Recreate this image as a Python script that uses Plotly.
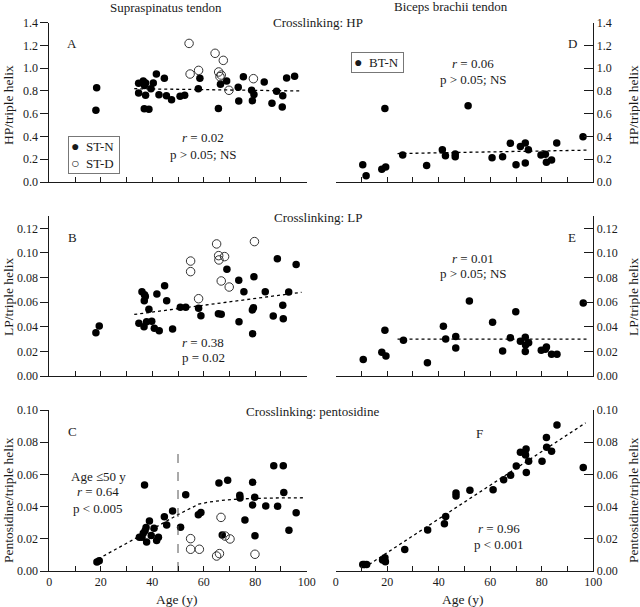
import plotly.graph_objects as go

# ---------------- data ----------------
A_STN_age = [18.4, 18.1, 34.7, 34.7, 36.5, 37.4, 37.0, 37.4, 36.9, 38.7, 39.5, 40.4, 41.6, 42.6, 44.7, 45.5, 47.5, 50.8, 52.6, 57.9, 58.5, 65.7, 66.5, 68.9, 73.4, 73.6, 75.4, 78.6, 78.9, 79.5, 83.5, 86.5, 88.3, 90.7, 90.5, 92.2, 95.3]
A_STN_val = [0.829, 0.630, 0.867, 0.782, 0.888, 0.870, 0.849, 0.762, 0.644, 0.639, 0.820, 0.870, 0.949, 0.767, 0.911, 0.759, 0.723, 0.753, 0.762, 0.820, 0.911, 0.647, 0.858, 0.888, 0.832, 0.712, 0.926, 0.806, 0.715, 0.770, 0.879, 0.691, 0.797, 0.759, 0.659, 0.914, 0.929]
A_STD_age = [54.3, 54.7, 58.0, 64.4, 65.8, 66.3, 66.8, 67.6, 69.8, 79.3]
A_STD_val = [1.218, 0.949, 0.981, 1.131, 0.967, 0.926, 0.940, 1.069, 0.806, 0.908]

B_STN_age = [18.1, 19.4, 34.8, 36.0, 36.8, 37.0, 37.3, 36.9, 37.8, 38.7, 39.8, 40.8, 41.8, 42.7, 44.8, 45.6, 47.9, 50.9, 53.0, 58.0, 58.9, 65.7, 66.8, 69.0, 73.6, 73.7, 75.6, 78.9, 79.3, 79.5, 79.0, 83.9, 87.0, 88.6, 90.7, 90.9, 93.0, 95.9]
B_STN_val = [0.0352, 0.0406, 0.0428, 0.0685, 0.0401, 0.0660, 0.0645, 0.0612, 0.0441, 0.0542, 0.0444, 0.0387, 0.0666, 0.0368, 0.0734, 0.0612, 0.0382, 0.0558, 0.0558, 0.0550, 0.0490, 0.0506, 0.0501, 0.0867, 0.0777, 0.0441, 0.0685, 0.0536, 0.0555, 0.0807, 0.0344, 0.0685, 0.0488, 0.0953, 0.0574, 0.0466, 0.0683, 0.0905]
B_STD_age = [54.9, 54.9, 58.0, 65.0, 65.8, 65.9, 66.8, 68.1, 69.9, 79.7]
B_STD_val = [0.0934, 0.0848, 0.0628, 0.1073, 0.0978, 0.0943, 0.0772, 0.0970, 0.0723, 0.1092]

C_STN_age = [18.5, 19.4, 35.0, 36.0, 36.5, 37.2, 37.6, 37.8, 38.9, 39.6, 40.7, 41.7, 42.4, 37.0, 44.7, 45.6, 47.9, 51.0, 53.0, 57.9, 58.9, 65.9, 67.2, 69.3, 74.0, 74.1, 76.0, 79.0, 79.0, 79.8, 79.9, 84.1, 87.2, 88.7, 90.9, 91.1, 93.1, 95.9]
C_STN_val = [0.0056, 0.0064, 0.0210, 0.0210, 0.0235, 0.0250, 0.0270, 0.0180, 0.0310, 0.0220, 0.0265, 0.0190, 0.0210, 0.0534, 0.0337, 0.0286, 0.0373, 0.0271, 0.0474, 0.0350, 0.0364, 0.0547, 0.0224, 0.0563, 0.0470, 0.0453, 0.0317, 0.0551, 0.0410, 0.0458, 0.0219, 0.0404, 0.0654, 0.0402, 0.0654, 0.0487, 0.0253, 0.0362]
C_STD_age = [54.9, 54.9, 58.3, 65.0, 66.1, 66.7, 68.3, 70.2, 79.9]
C_STD_val = [0.0201, 0.0135, 0.0135, 0.0093, 0.0108, 0.0333, 0.0217, 0.0199, 0.0104]

D_BTN_age = [10.5, 11.8, 17.9, 19.1, 19.4, 26.0, 35.3, 41.4, 42.6, 46.4, 46.4, 51.4, 60.7, 64.8, 67.8, 70.0, 71.7, 73.6, 73.6, 74.8, 79.7, 81.4, 81.8, 83.8, 85.8, 96.0]
D_BTN_val = [0.152, 0.056, 0.111, 0.647, 0.132, 0.237, 0.146, 0.284, 0.231, 0.246, 0.223, 0.671, 0.214, 0.223, 0.340, 0.152, 0.313, 0.343, 0.167, 0.284, 0.237, 0.243, 0.173, 0.193, 0.343, 0.398]

E_BTN_age = [10.7, 17.9, 19.1, 19.5, 26.3, 35.6, 41.8, 42.7, 46.6, 46.6, 51.9, 60.9, 64.8, 67.8, 69.9, 71.7, 73.6, 73.7, 73.6, 74.9, 79.8, 81.4, 81.8, 83.8, 85.9, 96.1]
E_BTN_val = [0.0135, 0.0192, 0.0371, 0.0163, 0.0290, 0.0108, 0.0404, 0.0301, 0.0320, 0.0228, 0.0609, 0.0436, 0.0203, 0.0311, 0.0523, 0.0282, 0.0314, 0.0252, 0.0200, 0.0271, 0.0209, 0.0217, 0.0236, 0.0176, 0.0176, 0.0593]

F_BTN_age = [10.5, 11.1, 12.0, 18.2, 19.1, 19.3, 26.8, 35.7, 42.2, 42.7, 46.7, 46.7, 52.1, 61.1, 65.2, 67.9, 70.1, 71.7, 73.4, 73.9, 73.7, 74.0, 74.9, 80.1, 81.8, 81.9, 83.8, 85.9, 96.1]
F_BTN_val = [0.0041, 0.0041, 0.0041, 0.0068, 0.0082, 0.0058, 0.0134, 0.0254, 0.0293, 0.0338, 0.0485, 0.0466, 0.0501, 0.0505, 0.0567, 0.0594, 0.0652, 0.0738, 0.0738, 0.0757, 0.0720, 0.0612, 0.0682, 0.0682, 0.0829, 0.0769, 0.0744, 0.0907, 0.0643]

# regression / fit lines
A_fit_age, A_fit_val = [33, 98], [0.82, 0.80]
B_fit_age, B_fit_val = [33, 98], [0.050, 0.068]
C_fit_age = [19, 30, 40, 50, 55, 58, 62, 68, 75, 85, 99]
C_fit_val = [0.0075, 0.017, 0.026, 0.035, 0.039, 0.0415, 0.0428, 0.044, 0.0448, 0.0453, 0.0455]
C_cut_age, C_cut_val = [50, 50], [0, 0.073]
D_fit_age, D_fit_val = [24, 98], [0.25, 0.28]
E_fit_age, E_fit_val = [24, 98], [0.030, 0.030]
F_fit_age, F_fit_val = [11, 97], [0.002, 0.092]

x_ticks = list(range(0, 101, 10))
x_ticktext = ["0", "", "20", "", "40", "", "60", "", "80", "", "100"]

# ---------------- layout helpers ----------------
W, H = 640, 607
FONT = "Liberation Serif"
INK = "#1a1a1a"

def px_x(p):
    return p / W

def px_y(p):
    return 1 - p / H

XL = [px_x(49.3), px_x(306.7)]
XR = [px_x(335.7), px_x(593.3)]
Y1 = [px_y(182), px_y(22.7)]
Y2 = [px_y(376), px_y(216)]
Y3 = [px_y(571), px_y(410)]

fig = go.Figure()

filled = dict(color="black", size=7.5, symbol="circle")
opened = dict(color="#333", size=8.5, symbol="circle-open", line=dict(width=1))
fitline = dict(color="black", width=1.3, dash="dot")

def add_panel(xa, ya, pts, fits):
    for (xs, ys, style, name) in pts:
        fig.add_trace(go.Scatter(x=xs, y=ys, mode="markers", marker=style, name=name,
                                 xaxis=xa, yaxis=ya, showlegend=False, cliponaxis=False))
    for (xs, ys, ln) in fits:
        fig.add_trace(go.Scatter(x=xs, y=ys, mode="lines", line=ln, xaxis=xa, yaxis=ya,
                                 showlegend=False, hoverinfo="skip"))

add_panel("x", "y",
          [(A_STN_age, A_STN_val, filled, "ST-N"), (A_STD_age, A_STD_val, opened, "ST-D")],
          [(A_fit_age, A_fit_val, fitline)])
add_panel("x2", "y2",
          [(D_BTN_age, D_BTN_val, filled, "BT-N")],
          [(D_fit_age, D_fit_val, fitline)])
add_panel("x3", "y3",
          [(B_STN_age, B_STN_val, filled, "ST-N"), (B_STD_age, B_STD_val, opened, "ST-D")],
          [(B_fit_age, B_fit_val, fitline)])
add_panel("x4", "y4",
          [(E_BTN_age, E_BTN_val, filled, "BT-N")],
          [(E_fit_age, E_fit_val, fitline)])
add_panel("x5", "y5",
          [(C_STN_age, C_STN_val, filled, "ST-N"), (C_STD_age, C_STD_val, opened, "ST-D")],
          [(C_fit_age, C_fit_val, fitline),
           (C_cut_age, C_cut_val, dict(color="#555555", width=1, dash="dash"))])
add_panel("x6", "y6",
          [(F_BTN_age, F_BTN_val, filled, "BT-N")],
          [(F_fit_age, F_fit_val, fitline)])

def xaxis(domain, anchor, labels):
    return dict(domain=domain, anchor=anchor, range=[0, 100], showgrid=False, zeroline=False,
                showline=True, linecolor=INK, linewidth=1, ticks="inside", ticklen=5,
                tickcolor=INK, tickvals=x_ticks, ticktext=x_ticktext, showticklabels=labels,
                tickfont=dict(family=FONT, size=12, color=INK), automargin=False)

def yaxis(domain, anchor, rng, dtick, fmt, side):
    return dict(domain=domain, anchor=anchor, range=rng, dtick=dtick, tick0=0, tickformat=fmt,
                side=side, showgrid=False, zeroline=False, showline=True, linecolor=INK,
                linewidth=1, ticks="outside" if side == "left" else "inside",
                ticklen=8 if side == "left" else 9,
                tickcolor=INK, tickfont=dict(family=FONT, size=12, color=INK),
                automargin=False)

fig.update_layout(
    width=W, height=H, margin=dict(l=0, r=0, t=0, b=0, autoexpand=False),
    paper_bgcolor="white", plot_bgcolor="white",
    font=dict(family=FONT, size=13, color=INK),
    showlegend=False,
    xaxis=xaxis(XL, "y", False), yaxis=yaxis(Y1, "x", [0, 1.4], 0.2, ".1f", "left"),
    xaxis2=xaxis(XR, "y2", False), yaxis2=yaxis(Y1, "x2", [0, 1.4], 0.2, ".1f", "right"),
    xaxis3=xaxis(XL, "y3", False), yaxis3=yaxis(Y2, "x3", [0, 0.13], 0.02, ".2f", "left"),
    xaxis4=xaxis(XR, "y4", False), yaxis4=yaxis(Y2, "x4", [0, 0.13], 0.02, ".2f", "right"),
    xaxis5=xaxis(XL, "y5", True), yaxis5=yaxis(Y3, "x5", [0, 0.10], 0.02, ".2f", "left"),
    xaxis6=xaxis(XR, "y6", True), yaxis6=yaxis(Y3, "x6", [0, 0.10], 0.02, ".2f", "right"),
)

def ann(text, xp, yp, size=13, angle=0, **kw):
    fig.add_annotation(text=text, x=px_x(xp), y=px_y(yp), xref="paper", yref="paper",
                       showarrow=False, xanchor="center", yanchor="middle", textangle=angle,
                       font=dict(family=FONT, size=size, color=INK), **kw)

# column / row titles
ann("Supraspinatus tendon", 166, 7)
ann("Biceps brachii tendon", 451, 6)
ann("Crosslinking: HP", 318, 22)
ann("Crosslinking: LP", 318, 217)
ann("Crosslinking: pentosidine", 312, 411)

# axis titles
for t, yp in [("HP/triple helix", 105), ("LP/triple helix", 297), ("Pentosidine/triple helix", 500)]:
    ann(t, 8, yp, size=13.5, angle=-90)
    ann(t, 633, yp, size=13.5, angle=-90)
ann("Age (y)", 177, 599, size=13.5)
ann("Age (y)", 463, 599, size=13.5)

# panel letters
for t, xp, yp in [("A", 72, 43), ("B", 72, 237), ("C", 72, 431), ("D", 572, 43), ("E", 572, 237), ("F", 479, 433)]:
    ann(t, xp, yp)

# statistics
ann("<i>r</i> = 0.02", 203, 137); ann("p > 0.05; NS", 203, 154)
ann("<i>r</i> = 0.06", 473, 63); ann("p > 0.05; NS", 473, 80)
ann("<i>r</i> = 0.38", 203, 342); ann("p = 0.02", 203, 357)
ann("<i>r</i> = 0.01", 473, 258); ann("p > 0.05; NS", 473, 273)
ann("Age ≤50 y", 98, 476); ann("<i>r</i> = 0.64", 98, 491); ann("p < 0.005", 98, 508)
ann("<i>r</i> = 0.96", 499, 528); ann("p < 0.001", 499, 544)

# legend boxes
fig.add_annotation(text="<span style='font-size:14px'>●</span>&nbsp;&nbsp;ST-N&nbsp;<br><span style='font-size:14px'>○</span>&nbsp;&nbsp;ST-D&nbsp;",
                   x=px_x(68), y=px_y(136), xref="paper", yref="paper", xanchor="left", yanchor="top",
                   showarrow=False, align="left", bordercolor="#777", borderwidth=1, borderpad=2,
                   bgcolor="white", font=dict(family=FONT, size=13, color=INK))
fig.add_annotation(text="<span style='font-size:14px'>●</span>&nbsp;&nbsp;BT-N&nbsp;",
                   x=px_x(351), y=px_y(52), xref="paper", yref="paper", xanchor="left", yanchor="top",
                   showarrow=False, align="left", bordercolor="#777", borderwidth=1, borderpad=2,
                   bgcolor="white", font=dict(family=FONT, size=13, color=INK))

fig.write_html("out.html", config={"displayModeBar": False},
               post_script="document.body.style.margin='0';")
